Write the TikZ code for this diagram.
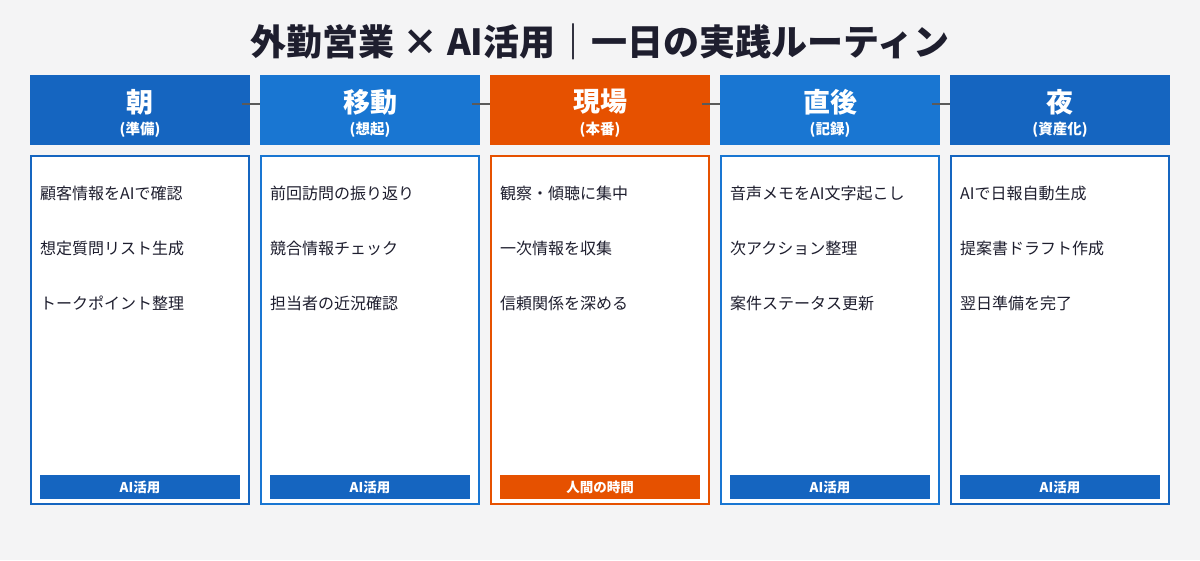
\documentclass[tikz,border=0pt]{standalone}
\usepackage{fontspec}
\setmainfont{Noto Sans CJK JP}
\usepackage{tikz}
\usetikzlibrary{calc}
\definecolor{bg_gray}{RGB}{244, 244, 245}
\definecolor{ai_dark}{RGB}{21, 101, 192}
\definecolor{ai_blue}{RGB}{25, 118, 210}
\definecolor{hm_orange}{RGB}{230, 81, 0}
\definecolor{ink}{RGB}{30, 30, 46}
\definecolor{link_gray}{RGB}{90, 90, 90}
\tikzstyle{hd}=[rectangle,draw=none,minimum width=220pt,minimum height=70pt,inner sep=0pt]
\tikzstyle{bd}=[rectangle,fill=white,line width=2pt,minimum width=218pt,
  minimum height=348pt,inner sep=0pt]
\tikzstyle{tg}=[rectangle,draw=none,minimum width=200pt,minimum height=24pt,inner sep=0pt,
  text=white,font=\fontsize{13.5}{15}\selectfont\bfseries]
\tikzstyle{ht}=[text=white,inner sep=0pt,font=\fontsize{27}{30}\selectfont\bfseries]
\tikzstyle{st}=[text=white,inner sep=0pt,font=\fontsize{14.5}{16}\selectfont\bfseries]
\tikzstyle{it}=[anchor=west,text=ink,inner sep=0pt,font=\fontsize{16}{19}\selectfont]
\tikzstyle{lk}=[draw=link_gray,line width=1.8pt]
\tikzstyle{none}=[]

\begin{document}
\begin{tikzpicture}[x=1pt,y=-1pt]
            \fill [bg_gray] (0, 0) rectangle (1200, 560);
            \node [style=none, text=ink, inner sep=0pt, font=\fontsize{36}{40}\selectfont\bfseries] (t) at (600, 42) {外勤営業 × AI活用｜一日の実践ルーティン};
            \node [style=hd, fill=ai_dark] (0) at (140, 110) {};
            \node [style=hd, fill=ai_blue] (1) at (370, 110) {};
            \node [style=hd, fill=hm_orange] (2) at (600, 110) {};
            \node [style=hd, fill=ai_blue] (3) at (830, 110) {};
            \node [style=hd, fill=ai_dark] (4) at (1060, 110) {};
            \node [style=ht] (0a) at (140, 102) {朝};
            \node [style=st] (0b) at (140, 130) {(準備)};
            \node [style=ht] (1a) at (370, 102) {移動};
            \node [style=st] (1b) at (370, 130) {(想起)};
            \node [style=ht] (2a) at (600, 102) {現場};
            \node [style=st] (2b) at (600, 130) {(本番)};
            \node [style=ht] (3a) at (830, 102) {直後};
            \node [style=st] (3b) at (830, 130) {(記録)};
            \node [style=ht] (4a) at (1060, 102) {夜};
            \node [style=st] (4b) at (1060, 130) {(資産化)};
            \node [style=bd, draw=ai_dark] (5) at (140, 330) {};
            \node [style=bd, draw=ai_blue] (6) at (370, 330) {};
            \node [style=bd, draw=hm_orange] (7) at (600, 330) {};
            \node [style=bd, draw=ai_blue] (8) at (830, 330) {};
            \node [style=bd, draw=ai_dark] (9) at (1060, 330) {};
            \node [style=it] (10) at (40, 193) {顧客情報をAIで確認};
            \node [style=it] (11) at (40, 248) {想定質問リスト生成};
            \node [style=it] (12) at (40, 303) {トークポイント整理};
            \node [style=it] (13) at (270, 193) {前回訪問の振り返り};
            \node [style=it] (14) at (270, 248) {競合情報チェック};
            \node [style=it] (15) at (270, 303) {担当者の近況確認};
            \node [style=it] (16) at (500, 193) {観察・傾聴に集中};
            \node [style=it] (17) at (500, 248) {一次情報を収集};
            \node [style=it] (18) at (500, 303) {信頼関係を深める};
            \node [style=it] (19) at (730, 193) {音声メモをAI文字起こし};
            \node [style=it] (20) at (730, 248) {次アクション整理};
            \node [style=it] (21) at (730, 303) {案件ステータス更新};
            \node [style=it] (22) at (960, 193) {AIで日報自動生成};
            \node [style=it] (23) at (960, 248) {提案書ドラフト作成};
            \node [style=it] (24) at (960, 303) {翌日準備を完了};
            \node [style=tg, fill=ai_dark] (25) at (140, 487) {AI活用};
            \node [style=tg, fill=ai_dark] (26) at (370, 487) {AI活用};
            \node [style=tg, fill=hm_orange] (27) at (600, 487) {人間の時間};
            \node [style=tg, fill=ai_dark] (28) at (830, 487) {AI活用};
            \node [style=tg, fill=ai_dark] (29) at (1060, 487) {AI活用};
            \draw [style=lk] ([xshift=-8pt, yshift=6pt]0.east) to ([yshift=6pt]1.west);
            \draw [style=lk] ([xshift=-8pt, yshift=6pt]1.east) to ([yshift=6pt]2.west);
            \draw [style=lk] ([xshift=-8pt, yshift=6pt]2.east) to ([yshift=6pt]3.west);
            \draw [style=lk] ([xshift=-8pt, yshift=6pt]3.east) to ([yshift=6pt]4.west);
    \end{tikzpicture}
\end{document}
